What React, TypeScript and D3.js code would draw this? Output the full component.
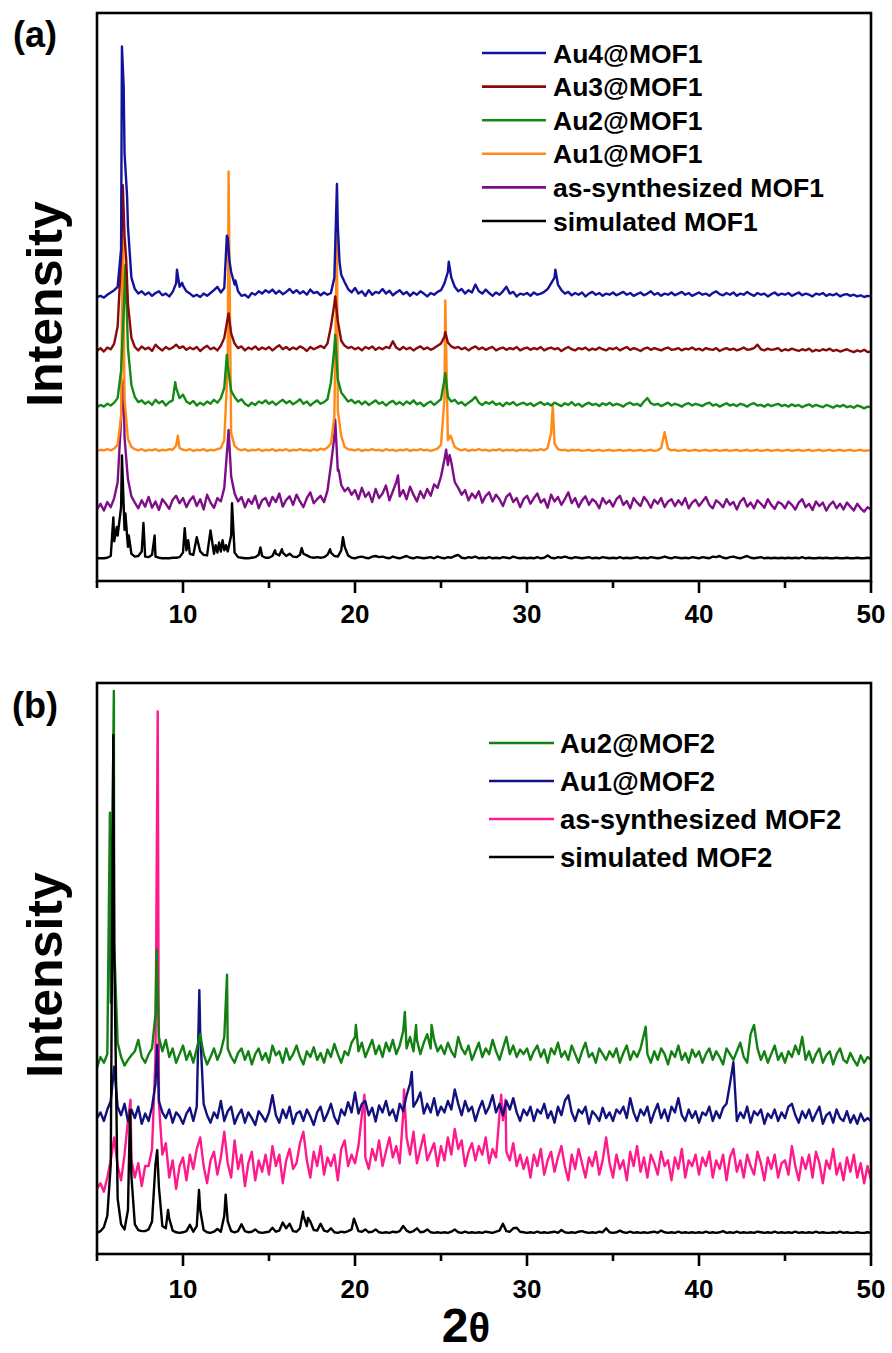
import React from "react";
import * as d3 from "d3";

const FONT = "'Liberation Sans', Arial, Helvetica, sans-serif";

// ---- shared x axis (2θ, degrees) ----
const GRID_START = 5;
const GRID_STEP = 0.2;
const X_DOMAIN: [number, number] = [5, 50];
const majorTicks = [10, 20, 30, 40, 50];
const minorTicks = [5, 15, 25, 35, 45];
const Y_DOMAIN: [number, number] = [0, 1000];

// ================= PANEL (a) =================
const labelsA = ["Au4@MOF1", "Au3@MOF1", "Au2@MOF1", "Au1@MOF1", "as-synthesized MOF1", "simulated MOF1"];
const colorsA = ["#12129e", "#880a0a", "#138a13", "#ff8a16", "#7e0e88", "#000000"];
const offsetsA = [504, 408, 310, 230, 134, 40];

const gridAu4MOF1 = [
  -4, -2, -5, 0, 4, 8, 14, 80, 250, 120, 30, 10, 2, 6, 0, 4, -2, 3, 6, -1, 2, -3, 5, 20, 14,
  16, 6, 2, -3, 0, -4, 2, -2, 3, 8, 14, 4, 12, 100, 40, 18, 6, -2, 0, -5, 3, 0, 6, 2, 8,
  4, 9, 2, 7, 1, 5, 10, 3, 8, 2, 6, 0, 9, 3, 5, -1, 4, 0, 3, 30, 120, 35, 22, 10, 4,
  12, 2, 6, -2, 8, 0, 5, 3, 10, 2, 7, -1, 4, 8, 1, 5, -2, 4, 0, 6, 2, -3, 3, 0, 5,
  8, 20, 40, 30, 14, 6, 10, 2, 8, 4, 18, 6, 2, 9, 3, -2, 4, 0, 6, 14, 2, 5, -3, 2, 0,
  3, -2, 4, 0, 2, 5, 10, 20, 30, 18, 8, 2, 5, -1, 3, 0, 4, -3, 2, 5, 0, 3, -2, 2, 0,
  4, -1, 2, 5, 0, 3, -2, 1, 4, -1, 2, 6, 0, 3, -2, 2, 0, 4, -1, 2, 5, 0, 3, -2, 1,
  4, 0, 2, -2, 3, 6, 1, -1, 3, 0, 4, -2, 2, 0, 5, 1, -2, 3, 0, 2, -3, 1, 4, -1, 2,
  0, 3, -2, 1, 4, -1, 2, 0, -3, 2, 0, 3, -2, 1, -1, 2, -3, 0, 1, -2, 0, -3, -1, -4, -2,
  -3,
];
const peaksAu4MOF1: [number, number][] = [
  [6.45, 437], [6.55, 366], [6.75, 173], [9.65, 44], [9.95, 21], [12.55, 104], [12.7, 60],
  [13.05, 25], [18.95, 195], [19.1, 58], [25.45, 58], [31.65, 44],
];

const gridAu3MOF1 = [
  -3, 2, -4, 3, 0, 10, 40, 160, 200, 80, 20, 4, -2, 5, 0, 3, -3, 8, 2, -2, 4, 0, 3, 8, 2,
  5, -1, 3, 0, 4, -3, 2, 6, 0, 3, -2, 6, 20, 55, 28, 10, 2, 5, -2, 3, 0, 5, -1, 3, 0,
  4, -2, 3, 7, 0, 4, -1, 3, 0, 5, 2, -3, 4, 0, 3, 6, 2, 10, 40, 80, 50, 15, 6, 2, 4,
  0, 3, -2, 4, 1, 5, -1, 3, 0, 4, 2, 14, 3, -1, 4, 0, 3, -2, 2, 5, 0, 3, -1, 2, 6,
  10, 22, 12, 5, 2, 4, 0, 3, -2, 2, 5, 0, 3, -1, 2, 4, -2, 1, 3, -1, 2, 0, 4, -2, 1,
  3, -1, 2, 0, 4, -2, 1, 3, 0, 2, -3, 1, 4, 0, -2, 2, 0, 3, -2, 1, -1, 3, 0, -2, 2,
  0, 3, -2, 1, 4, -1, 2, 0, -3, 1, 3, -1, 2, 0, -2, 1, 3, -1, 0, 2, -2, 1, 0, 3, -1,
  1, -2, 2, 0, -1, 2, -3, 0, 2, -1, 1, -2, 0, 3, -1, 0, 2, 8, 0, -2, 1, -1, 0, 2, -3,
  0, -2, 1, -1, -3, 0, -2, 1, -4, -1, -3, 0, -2, 1, -3, -1, -4, -2, 0, -3, -5, -2, -4, -1, -5,
  -4,
];
const peaksAu3MOF1: [number, number][] = [
  [6.5, 289], [6.7, 157], [12.65, 63], [18.85, 93], [25.25, 30],
];

const gridAu2MOF1 = [
  -4, 0, -3, 2, -1, 4, 12, 60, 200, 100, 35, 14, 5, 8, 2, 6, 0, 9, 3, 7, -1, 5, 8, 30, 12,
  18, 6, 2, 7, -1, 4, 0, 6, 2, 9, 4, 12, 30, 70, 25, 14, 6, 10, 2, -2, 4, 0, 6, 3, 8,
  2, 6, 0, 5, 9, 3, 7, 1, 5, 10, 2, 6, -1, 4, 8, 2, 5, 10, 40, 100, 45, 22, 14, 6, 9,
  3, 7, 1, 6, 0, 4, 8, 2, 5, -1, 4, 7, 1, 5, 0, 6, 2, 8, 1, 4, -2, 3, 6, 0, 5,
  10, 45, 14, 6, 9, 2, 5, -1, 4, 8, 14, 4, 0, 5, 2, 6, 0, 3, -2, 4, 1, 5, -1, 2, 4,
  0, 3, -2, 2, 5, 0, 3, -1, 4, 1, -2, 3, 0, 5, -1, 2, -3, 1, 4, 0, 2, -2, 3, 0, 4,
  -1, 2, 0, -3, 2, 4, 0, 2, -2, 6, 12, 3, 0, 2, -2, 1, 4, -1, 2, 0, -3, 1, 3, -1, 2,
  0, -2, 2, 4, -1, 1, -3, 0, 3, -1, 1, -2, 2, 0, -3, 1, 3, -1, 0, -3, 1, -2, 0, 2, -2,
  0, -3, 1, -2, 0, -4, -1, 1, -3, 0, -2, -4, 0, -2, -5, -1, -3, 0, -4, -2, -5, -1, -3, -6, -3,
  -4,
];
const peaksAu2MOF1: [number, number][] = [
  [6.65, 246], [9.55, 40], [12.55, 88], [18.85, 123], [25.25, 56],
];

const gridAu1MOF1 = [
  -1, 1, 0, 2, 0, 3, 10, 60, 90, 20, 6, 2, 0, 2, -1, 1, 0, 2, -1, 1, 0, 2, 1, 8, 4,
  1, 0, 2, -1, 1, 0, 2, -1, 1, 0, 2, 4, 18, 150, 30, 8, 2, 0, 2, -1, 1, 0, 2, -1, 1,
  0, 2, -1, 1, 0, 2, -1, 1, 0, 2, 0, 1, -1, 2, 0, 3, 1, 5, 12, 60, 70, 25, 6, 2, 1,
  0, 2, -1, 1, 0, 2, 0, 1, -1, 2, 0, 1, -1, 1, 0, 2, -1, 1, 0, 2, 0, 1, -1, 1, 3,
  10, 90, 18, 22, 6, 2, 0, 2, -1, 1, 0, 2, 0, 1, -1, 1, 0, 2, -1, 1, 0, 1, -1, 1, 0,
  1, -1, 1, 0, 2, 0, 4, 30, 12, 2, 0, 1, -1, 1, 0, 1, -1, 0, 1, -1, 0, 1, -1, 0, 1,
  -1, 0, 1, -1, 0, 1, -1, 0, 1, -1, 0, 1, -1, 0, 4, 20, 3, 0, 1, -1, 0, 1, -1, 0, 1,
  -1, 0, 1, -1, 0, 1, -1, 0, 1, -1, 0, 1, -1, 0, 1, -1, 0, 1, -1, 0, 1, -1, 0, 1, -1,
  0, 1, -1, 0, 1, -1, 0, 1, -1, 0, 1, -1, 0, 1, -1, 0, 1, -1, 0, 1, -1, 0, 1, -1, 0,
  0,
];
const peaksAu1MOF1: [number, number][] = [
  [6.5, 440], [9.7, 26], [12.65, 491], [18.95, 378], [25.25, 264], [25.55, 26], [31.5, 79], [38.0, 32],
];

const gridAsSynMOF1 = [
  -8, 2, -10, 5, -4, 12, 40, 150, 120, 45, 15, 4, -6, 8, -3, 14, -5, 6, -9, 10, 2, -7, 9, 16, 3,
  12, -4, 8, 15, -2, 10, -8, 18, 4, -5, 12, 6, 30, 110, 50, 20, 6, 14, -4, 10, 2, 16, -6, 8, 12,
  -2, 14, 5, 20, -3, 9, 15, 0, 18, 6, -4, 12, 22, 3, 10, 16, 5, 25, 70, 120, 60, 35, 24, 30, 18,
  26, 10, 30, 14, 22, 5, 28, 12, 20, 34, 8, 24, 40, 15, 26, 10, 32, 18, 6, 24, 12, 28, 16, 36, 30,
  50, 80, 70, 75, 40, 30, 18, 26, 8, 20, 12, 24, 4, 16, 22, 6, 18, 10, -2, 14, 20, 5, 12, -4, 10,
  16, 2, 12, 20, 4, 10, -5, 18, 6, 14, 0, 10, 22, 3, 12, -4, 8, 15, 0, 10, 5, -6, 12, 2, 8,
  -3, 10, 16, 0, 7, -6, 12, 4, -2, 14, 6, -5, 9, 2, 12, -4, 6, 10, -2, 8, 0, 12, -6, 4, 9,
  -2, 6, 14, 0, -6, 8, 3, -4, 10, 0, 5, -8, 6, 12, -3, 4, -6, 8, 2, -5, 10, 0, -7, 5, 2,
  -6, 6, 0, -8, 4, 10, -4, 2, -9, 6, -2, 4, -10, 0, 6, -6, 2, -8, 4, -3, -10, 2, -6, -12, -4,
  -8,
];
const peaksAsSynMOF1: [number, number][] = [
  [6.55, 220], [6.75, 62], [12.65, 132], [18.85, 150], [19.05, 62], [22.5, 52], [25.3, 97], [25.5, 88],
];

const gridSimMOF1 = [
  0, 0, 0, 1, 4, 30, 40, 90, 50, 20, 8, 3, 4, 12, 3, 2, 6, 3, 1, 0, 0, 0, 1, 1, 2,
  10, 14, 8, 6, 20, 12, 6, 5, 20, 8, 10, 12, 14, 12, 40, 10, 2, 1, 0, 0, 1, 2, 6, 4, 1,
  1, 4, 8, 5, 10, 4, 8, 3, 2, 6, 8, 5, 2, 1, 2, 1, 2, 6, 10, 4, 3, 14, 20, 5, 1,
  0, 2, 3, 1, 0, 3, 4, 2, 3, 1, 0, 3, 1, 0, 2, 4, 1, 0, 2, 1, 0, 1, 2, 0, 3,
  1, 0, 2, 1, 4, 6, 1, 0, 2, 1, 3, 0, 1, 0, 2, 0, 1, 0, 2, 1, 0, 3, 1, 0, 1,
  0, 1, 0, 2, 0, 1, 5, 1, 0, 2, 1, 3, 1, 0, 2, 1, 0, 1, 2, 0, 1, 0, 2, 1, 0,
  1, 0, 2, 0, 1, 0, 1, 2, 0, 1, 0, 2, 1, 0, 1, 3, 1, 0, 2, 1, 0, 1, 0, 2, 1,
  0, 2, 1, 0, 3, 2, 4, 1, 0, 2, 3, 1, 0, 2, 4, 1, 0, 1, 2, 0, 1, 0, 1, 0, 1,
  0, 1, 0, 1, 0, 2, 0, 1, 0, 0, 1, 0, 1, 0, 0, 1, 0, 0, 1, 0, 0, 1, 0, 0, 1,
  0,
];
const peaksSimMOF1: [number, number][] = [
  [5.95, 72], [6.15, 55], [6.45, 181], [6.65, 79], [6.85, 40], [7.7, 62], [8.35, 40],
  [10.1, 53], [10.3, 32], [10.8, 37], [11.6, 49], [11.9, 23], [12.1, 28], [12.3, 32],
  [12.5, 23], [12.85, 97], [14.5, 19], [15.35, 14], [15.75, 16], [16.9, 18], [18.55, 16], [19.3, 37],
];

const gridsA = [gridAu4MOF1, gridAu3MOF1, gridAu2MOF1, gridAu1MOF1, gridAsSynMOF1, gridSimMOF1];
const peaksA = [peaksAu4MOF1, peaksAu3MOF1, peaksAu2MOF1, peaksAu1MOF1, peaksAsSynMOF1, peaksSimMOF1];

// ================= PANEL (b) =================
const labelsB = ["Au2@MOF2", "Au1@MOF2", "as-synthesized MOF2", "simulated MOF2"];
const colorsB = ["#138013", "#12127f", "#ff1a8c", "#000000"];
const offsetsB = [340, 238, 144, 37];

const gridAu2MOF2 = [
  -14, 5, -5, 10, 100, 200, 30, 5, -10, 0, 8, 15, 35, 5, -5, 10, 20, 80, 40, 15, 35, 5, 20, -5, 10,
  25, 0, 15, -5, 20, 45, 10, -8, 5, 20, 0, 15, 40, 20, 5, -5, 12, 20, 0, 15, -8, 10, 20, 0, 12,
  -5, 25, 8, 15, -5, 20, 0, 10, 25, 5, -8, 15, 5, 22, 0, 12, -5, 18, 5, 28, 10, -5, 15, 8, 30,
  40, 15, 30, 5, 20, 35, 10, 25, 5, 30, 15, 35, 10, 25, 50, 20, 40, 15, 35, 10, 30, 45, 20, 35, 15,
  25, 10, 30, 15, 5, 40, 20, 10, 25, 0, 15, 30, 5, 20, 10, 35, 15, 0, 20, 40, 10, 25, 5, 18, 10,
  20, 0, 15, 25, 5, 18, -5, 20, 10, 30, 5, 15, 0, 25, 10, -5, 15, 30, 5, 12, -5, 20, 10, 0, 15,
  5, 20, -5, 12, 25, 0, 15, 5, 20, 45, 10, -5, 15, 0, 20, 10, -8, 15, 5, 25, 0, 12, -5, 18, 5,
  15, -5, 10, 20, 0, 15, 5, -8, 20, 10, 0, 15, 30, 5, -5, 45, 10, 20, 0, 15, -5, 10, 25, 0, 12,
  -5, 15, 5, 25, 10, 40, 0, 15, -5, 10, 20, -5, 8, 15, -8, 10, 20, 0, -5, 12, 0, -10, 8, -5, 5,
  0,
];
const peaksAu2MOF2: [number, number][] = [
  [5.75, 433], [5.98, 646], [8.47, 193], [12.56, 149], [20.05, 61], [22.9, 84], [23.55, 61],
  [24.45, 61], [36.9, 58], [43.2, 61],
];

const gridAu1MOF2 = [
  0, 10, -5, 15, 30, 60, 20, 5, 25, -5, 15, 0, 20, -10, 8, -5, 20, 60, 30, 10, 0, 15, -8, 10, 3,
  -10, 8, 18, -5, 20, 150, 25, 5, -8, 10, 0, 30, -5, 12, 20, -10, 5, 15, -8, 10, 0, -12, 12, 4, -6,
  10, 40, 5, -8, 15, 0, 20, -10, 8, 12, -5, 15, 3, -12, 10, 20, -5, 8, 25, 2, -10, 15, 5, 28, 10,
  45, 8, 25, 30, 5, 18, -6, 22, 10, 30, 5, 15, -5, 25, 12, 40, 60, 20, 30, 45, 8, 25, 10, 35, 5,
  20, 10, 30, 15, 50, 25, 5, 30, 12, 20, -5, 15, 30, 8, 20, 40, 10, 25, 5, 30, 15, 35, 10, -5, 15,
  5, 20, -5, 15, 8, 25, 0, 12, -8, 20, 5, 30, 40, 10, -5, 15, 8, 20, -10, 12, 5, -5, 18, 0, 10,
  -5, 15, 8, 20, 0, 35, 10, -5, 15, 5, 20, -8, 10, 25, 0, 15, -5, 20, 10, 35, 5, -5, 15, 0, 12,
  -8, 10, 5, 20, -5, 12, 0, 18, 25, 60, 15, -5, 10, 0, 20, -8, 12, 5, 15, -10, 8, 0, 15, -5, 10,
  0, 20, 25, 5, -8, 12, 0, 15, -5, 8, 20, -10, 5, 10, -8, 15, 0, -5, 12, -8, 5, -10, 8, -5, 0,
  -5,
];
const peaksAu1MOF2: [number, number][] = [
  [6.0, 90], [8.5, 128], [10.95, 224], [23.3, 81], [42.0, 98],
];

const gridAsSynMOF2 = [
  -30, -20, -35, -10, 20, 60, 10, -15, 30, 90, 20, -10, 15, -25, 10, 10, 40, 200, 120, 30, 50, -10, 20, -30, 10,
  25, -15, 30, 5, 40, 60, 10, -20, 20, 35, -5, 25, 70, 15, -10, 55, 5, 30, -25, 15, 35, -15, 20, 0, 30,
  -5, 45, 10, 30, -20, 20, 40, 5, 15, 50, 70, 20, -10, 35, 10, 45, -5, 25, 10, 30, -15, 40, 55, 10, 30,
  15, 45, 100, 25, 5, 40, 20, 55, 10, 35, 60, 25, 45, 15, 100, 60, 30, 70, 15, 40, 65, 20, 35, 50, 10,
  45, 20, 60, 30, 75, 40, 55, 10, 35, 50, 20, 45, 30, 60, 15, 40, 25, 100, 90, 35, 20, 50, 10, 30, 5,
  25, -10, 30, 10, 40, -5, 20, 35, 0, 25, 45, 10, -15, 30, 5, 40, 15, -10, 25, 10, 35, -5, 20, 60, 15,
  -10, 30, 5, 20, -15, 35, 10, 45, 0, 25, -10, 30, 15, -5, 35, 10, 20, -15, 25, 5, 40, -10, 20, 10, 30,
  -5, 25, 10, 35, -10, 20, 5, 30, -15, 25, 40, 0, 20, -10, 30, 10, -5, 35, 15, -15, 25, 5, 30, -10, 15,
  20, -5, 45, 10, -15, 25, 5, 30, -10, 35, 15, -20, 20, 5, 40, -5, 15, -15, 25, 0, 30, -10, 15, -20, 10,
  -15,
];
const peaksAsSynMOF2: [number, number][] = [
  [6.95, 126], [8.53, 806], [20.55, 135], [22.85, 144], [28.5, 135], [28.75, 126],
];

const gridSimMOF2 = [
  0, 3, 10, 30, 120, 500, 60, 15, 6, 40, 100, 15, 5, 3, 3, 6, 20, 120, 80, 12, 8, 25, 4, 1, 0,
  1, 3, 14, 2, 12, 40, 5, 1, 0, 2, 7, 2, 30, 20, 3, 1, 3, 15, 3, 1, 2, 6, 1, 0, 1,
  2, 9, 2, 4, 18, 8, 16, 3, 2, 8, 30, 12, 20, 5, 4, 16, 4, 2, 8, 1, 0, 2, 1, 3, 6,
  20, 3, 2, 6, 1, 2, 6, 1, 0, 1, 0, 2, 1, 3, 12, 4, 1, 3, 8, 1, 2, 6, 1, 0, 1,
  0, 1, 0, 2, 6, 1, 0, 2, 0, 1, 0, 1, 0, 2, 1, 0, 2, 4, 16, 3, 2, 8, 9, 2, 1,
  0, 1, 0, 2, 0, 1, 0, 1, 2, 0, 5, 1, 0, 1, 0, 2, 3, 1, 0, 1, 0, 2, 1, 8, 1,
  0, 1, 4, 1, 0, 2, 0, 1, 0, 1, 0, 1, 2, 0, 4, 1, 0, 1, 0, 2, 0, 1, 0, 1, 0,
  1, 0, 2, 0, 1, 0, 1, 3, 0, 1, 0, 2, 0, 1, 0, 1, 0, 2, 1, 0, 1, 0, 2, 0, 1,
  0, 1, 0, 2, 0, 1, 0, 1, 0, 2, 0, 1, 0, 0, 1, 0, 2, 0, 1, 0, 0, 1, 0, 0, 1,
  0,
];
const peaksSimMOF2: [number, number][] = [
  [5.95, 872], [6.92, 215], [8.5, 145], [9.13, 40], [10.93, 75], [12.48, 67],
  [16.98, 37], [17.27, 26], [19.94, 25],
];

const gridsB = [gridAu2MOF2, gridAu1MOF2, gridAsSynMOF2, gridSimMOF2];
const peaksB = [peaksAu2MOF2, peaksAu1MOF2, peaksAsSynMOF2, peaksSimMOF2];

// ---------------------------------------------
type Pt = { x: number; v: number };

function buildPoints(grid: number[], peaks: [number, number][]): Pt[] {
  const pts: Pt[] = grid.map((v, i) => ({ x: +(GRID_START + i * GRID_STEP).toFixed(3), v }));
  peaks.forEach(([px, h]) => {
    const hit = pts.find((p) => Math.abs(p.x - px) < 1e-6);
    if (hit) hit.v = Math.max(hit.v, h);
    else pts.push({ x: px, v: h });
  });
  pts.sort((a, b) => a.x - b.x);
  return pts;
}

const LEFT = 97;
const RIGHT = 871;

type PanelProps = {
  top: number;
  bottom: number;
  labels: string[];
  colors: string[];
  offsets: number[];
  grids: number[][];
  peaks: [number, number][][];
  drawOrder: number[];
  tag: string;
  tagY: number;
  tagX: number;
  titleY: number;
  tickLabelY: number;
  legend: { x1: number; x2: number; tx: number; y0: number; dy: number; fs: number };
};

function Panel(p: PanelProps) {
  const x = d3.scaleLinear().domain(X_DOMAIN).range([LEFT, RIGHT]);
  const y = d3.scaleLinear().domain(Y_DOMAIN).range([p.bottom, p.top]);
  return (
    <g>
      {p.drawOrder.map((i) => {
        const pts = buildPoints(p.grids[i], p.peaks[i]);
        const line = d3
          .line<Pt>()
          .x((d) => x(d.x))
          .y((d) => y(p.offsets[i] + d.v));
        return (
          <path
            key={p.labels[i]}
            d={line(pts) || ""}
            fill="none"
            stroke={p.colors[i]}
            strokeWidth={2.4}
            strokeLinejoin="round"
          />
        );
      })}
      {/* frame */}
      <rect
        x={LEFT}
        y={p.top}
        width={RIGHT - LEFT}
        height={p.bottom - p.top}
        fill="none"
        stroke="#000"
        strokeWidth={2.6}
      />
      {majorTicks.map((t) => (
        <g key={"M" + t}>
          <line x1={x(t)} x2={x(t)} y1={p.bottom} y2={p.bottom + 12} stroke="#000" strokeWidth={2.6} />
          <text
            x={x(t)}
            y={p.tickLabelY}
            textAnchor="middle"
            fontFamily={FONT}
            fontWeight="bold"
            fontSize={26}
            fill="#000"
          >
            {t}
          </text>
        </g>
      ))}
      {minorTicks.map((t) => (
        <line key={"m" + t} x1={x(t)} x2={x(t)} y1={p.bottom} y2={p.bottom + 7} stroke="#000" strokeWidth={2.6} />
      ))}
      {/* legend */}
      {p.labels.map((lab, i) => {
        const ly = p.legend.y0 + i * p.legend.dy;
        return (
          <g key={"L" + lab}>
            <line x1={p.legend.x1} x2={p.legend.x2} y1={ly} y2={ly} stroke={p.colors[i]} strokeWidth={2.6} />
            <text
              x={p.legend.tx}
              y={ly + p.legend.fs * 0.36}
              fontFamily={FONT}
              fontWeight="bold"
              fontSize={p.legend.fs}
              fill="#000"
            >
              {lab}
            </text>
          </g>
        );
      })}
      <text x={p.tagX} y={p.tagY} fontFamily={FONT} fontWeight="bold" fontSize={36} fill="#000">
        {p.tag}
      </text>
      <text
        transform={`translate(62,${p.titleY}) rotate(-90)`}
        textAnchor="middle"
        fontFamily={FONT}
        fontWeight="bold"
        fontSize={50}
        fill="#000"
      >
        Intensity
      </text>
    </g>
  );
}

export default function App() {
  return (
    <svg
      width={892}
      height={1353}
      viewBox="0 0 892 1353"
      style={{ position: "absolute", left: 0, top: 0, background: "#fff" }}
    >
      <rect x={0} y={0} width={892} height={1353} fill="#fff" />
      <Panel
        top={13}
        bottom={581}
        labels={labelsA}
        colors={colorsA}
        offsets={offsetsA}
        grids={gridsA}
        peaks={peaksA}
        drawOrder={[5, 4, 3, 2, 1, 0]}
        tag="(a)"
        tagX={13}
        tagY={47}
        titleY={304}
        tickLabelY={623}
        legend={{ x1: 482, x2: 546, tx: 553, y0: 53, dy: 33.6, fs: 26.5 }}
      />
      <Panel
        top={683}
        bottom={1254}
        labels={labelsB}
        colors={colorsB}
        offsets={offsetsB}
        grids={gridsB}
        peaks={peaksB}
        drawOrder={[2, 1, 0, 3]}
        tag="(b)"
        tagX={12}
        tagY={718}
        titleY={975}
        tickLabelY={1298}
        legend={{ x1: 489, x2: 554, tx: 560, y0: 743, dy: 38, fs: 27.5 }}
      />
      <text x={466} y={1342} textAnchor="middle" fontFamily={FONT} fontWeight="bold" fontSize={48} fill="#000">
        2<tspan fontSize={40}>θ</tspan>
      </text>
    </svg>
  );
}
